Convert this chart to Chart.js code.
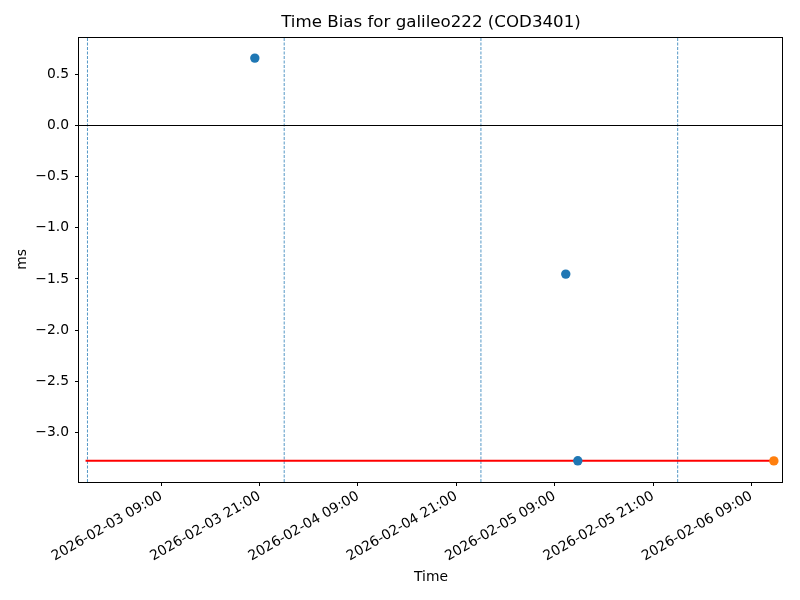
<!DOCTYPE html>
<html>
<head>
<meta charset="utf-8">
<script src="https://cdn.jsdelivr.net/npm/chart.js@4.4.1/dist/chart.umd.min.js"></script>
<style>
  html, body { margin: 0; padding: 0; background: #fff; }
  #wrap { width: 800px; height: 600px; }
</style>
</head>
<body>
<div id="wrap"><canvas id="chart" width="800" height="600"></canvas></div>
<script>
const TITLE = 'Time Bias for galileo222 (COD3401)';

// data (UTC times, ms values)
const blueTimes = ['2026-02-03T20:25', '2026-02-05T10:21', '2026-02-05T11:49'];
const blueValues = [0.659, -1.452, -3.277];
const orangeTimes = ['2026-02-06T11:44'];
const orangeValues = [-3.278];
const refLineTimes = ['2026-02-02T23:46', '2026-02-06T11:44'];
const refLineValue = -3.277;
const dayLines = ['2026-02-03T00:00', '2026-02-04T00:00', '2026-02-05T00:00', '2026-02-06T00:00'];

const xTicks = [
  '2026-02-03T09:00', '2026-02-03T21:00', '2026-02-04T09:00', '2026-02-04T21:00',
  '2026-02-05T09:00', '2026-02-05T21:00', '2026-02-06T09:00'
];
const yTicks = [0.5, 0.0, -0.5, -1.0, -1.5, -2.0, -2.5, -3.0];
const xRange = ['2026-02-02T22:58', '2026-02-06T12:51'];
const yRange = [-3.484, 0.865];

const ms = (s) => Date.parse(s + ':00Z');
const pad2 = (n) => String(n).padStart(2, '0');
const fmtTime = (v) => {
  const d = new Date(v);
  return `${d.getUTCFullYear()}-${pad2(d.getUTCMonth() + 1)}-${pad2(d.getUTCDate())} ${pad2(d.getUTCHours())}:${pad2(d.getUTCMinutes())}`;
};

const FONT = 'DejaVu Sans';
const BLUE = '#1f77b4';
const ORANGE = '#ff7f0e';

const dayDatasets = dayLines.map((t) => ({
  type: 'line',
  data: [{ x: ms(t), y: yRange[0] }, { x: ms(t), y: yRange[1] }],
  borderColor: 'rgba(31,119,180,0.85)',
  borderWidth: 0.9,
  borderDash: [3, 1.5],
  pointRadius: 0,
  order: 3,
}));

const frameAndTitle = {
  id: 'frameAndTitle',
  afterDraw(chart) {
    const { ctx, chartArea: a } = chart;
    ctx.save();
    ctx.strokeStyle = '#000';
    ctx.lineWidth = 1;
    ctx.strokeRect(Math.round(a.left) - 0.5, Math.round(a.top) + 0.5,
      Math.round(a.right - a.left), Math.round(a.bottom - a.top));
    ctx.fillStyle = '#000';
    ctx.font = `16.67px "${FONT}"`;
    ctx.textAlign = 'center';
    ctx.textBaseline = 'middle';
    ctx.fillText(TITLE, (a.left + a.right) / 2, 23);
    ctx.restore();
  },
};

new Chart(document.getElementById('chart').getContext('2d'), {
  type: 'scatter',
  data: {
    datasets: [
      {
        data: blueTimes.map((t, i) => ({ x: ms(t), y: blueValues[i] })),
        backgroundColor: BLUE,
        borderColor: BLUE,
        pointRadius: 4.7,
        borderWidth: 0,
        order: 0,
      },
      {
        data: orangeTimes.map((t, i) => ({ x: ms(t), y: orangeValues[i] })),
        backgroundColor: ORANGE,
        borderColor: ORANGE,
        pointRadius: 4.7,
        borderWidth: 0,
        order: 0,
      },
      {
        type: 'line',
        data: refLineTimes.map((t) => ({ x: ms(t), y: refLineValue })),
        borderColor: '#ff0000',
        borderWidth: 2,
        pointRadius: 0,
        order: 1,
      },
      {
        type: 'line',
        data: xRange.map((t) => ({ x: ms(t), y: 0 })),
        borderColor: '#000',
        borderWidth: 1,
        pointRadius: 0,
        order: 2,
      },
      ...dayDatasets,
    ],
  },
  options: {
    responsive: false,
    animation: false,
    layout: { padding: { top: 37, right: 17, bottom: 0, left: 0 } },
    plugins: {
      legend: { display: false },
      tooltip: { enabled: false },
      title: { display: false },
    },
    scales: {
      x: {
        type: 'linear',
        min: ms(xRange[0]),
        max: ms(xRange[1]),
        afterFit: (s) => { s.height = 118; },
        afterBuildTicks: (s) => { s.ticks = xTicks.map((t) => ({ value: ms(t) })); },
        grid: { drawOnChartArea: false, drawTicks: true, tickLength: 4, color: '#000' },
        border: { display: false },
        ticks: {
          color: '#000',
          font: { family: FONT, size: 13.89 },
          maxRotation: 30,
          minRotation: 30,
          padding: 2,
          autoSkip: false,
          callback: (v) => fmtTime(v),
        },
        title: {
          display: true,
          text: 'Time',
          color: '#000',
          font: { family: FONT, size: 13.89 },
          padding: { top: 4, bottom: 14 },
        },
      },
      y: {
        min: yRange[0],
        max: yRange[1],
        afterFit: (s) => { s.width = 79; },
        afterBuildTicks: (s) => { s.ticks = yTicks.map((v) => ({ value: v })); },
        grid: { drawOnChartArea: false, drawTicks: true, tickLength: 4, color: '#000' },
        border: { display: false },
        ticks: {
          color: '#000',
          font: { family: FONT, size: 13.89 },
          padding: 6,
          callback: (v) => v.toFixed(1).replace('-', '\u2212'),
        },
        title: {
          display: true,
          text: 'ms',
          color: '#000',
          font: { family: FONT, size: 13.89 },
          padding: { top: 14, bottom: 14 },
        },
      },
    },
  },
  plugins: [frameAndTitle],
});
</script>
</body>
</html>
